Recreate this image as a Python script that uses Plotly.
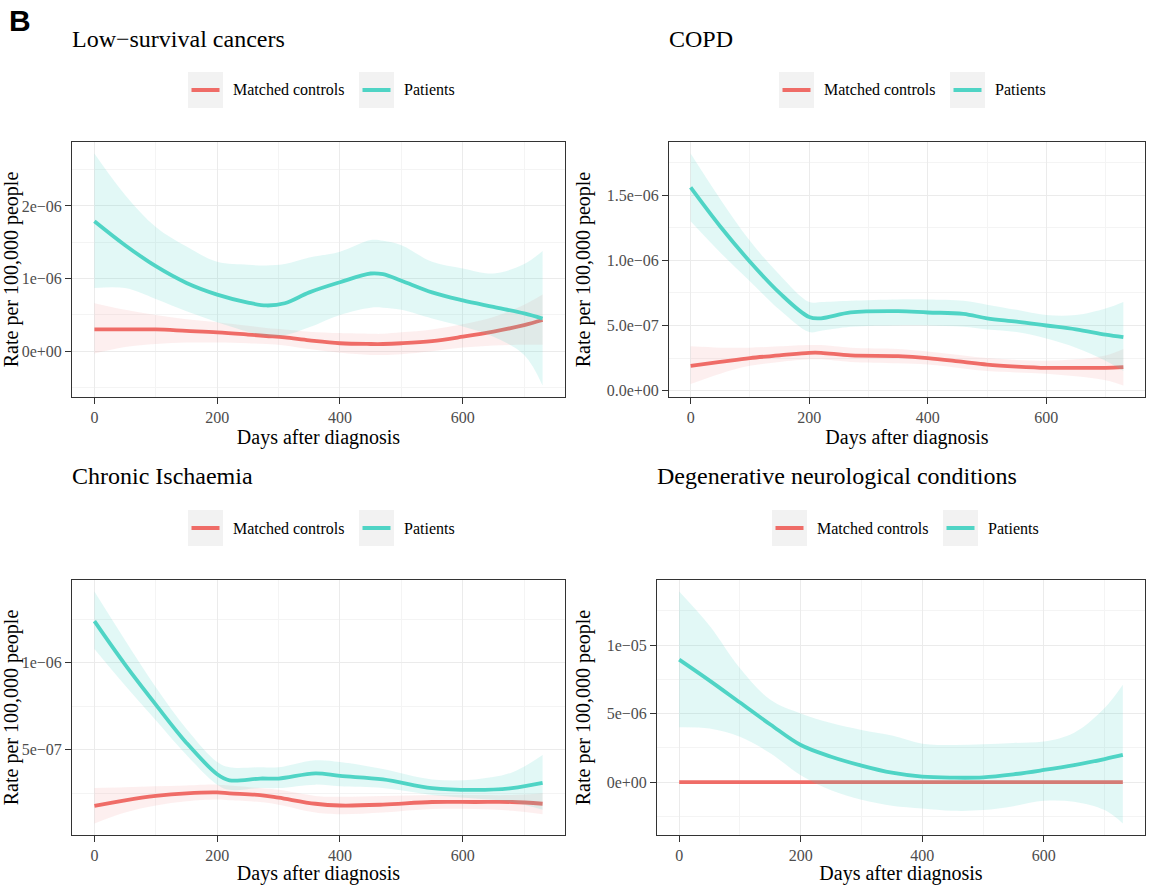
import plotly.graph_objects as go

W, H = 1151, 885
SCALE = 1e-6  # values below are in units of 1e-6

# ---------------- Data (rate, in 1e-6 units) ----------------
# Panel 1: Low-survival cancers
days1 = [0, 50, 100, 150, 200, 250, 280, 310, 350, 400, 450, 470, 500, 550, 600, 650, 700, 730]
pat1 = [1.79, 1.46, 1.17, 0.94, 0.78, 0.67, 0.63, 0.66, 0.81, 0.95, 1.07, 1.06, 0.97, 0.81, 0.70, 0.61, 0.52, 0.45]
pat1_hi = [2.72, 2.15, 1.71, 1.44, 1.23, 1.19, 1.18, 1.20, 1.29, 1.37, 1.53, 1.52, 1.46, 1.23, 1.14, 1.07, 1.20, 1.38]
pat1_lo = [0.87, 0.87, 0.72, 0.55, 0.40, 0.27, 0.21, 0.22, 0.33, 0.50, 0.60, 0.60, 0.57, 0.45, 0.34, 0.20, -0.05, -0.47]
ctl1 = [0.30, 0.30, 0.30, 0.28, 0.26, 0.23, 0.21, 0.19, 0.15, 0.11, 0.10, 0.10, 0.11, 0.14, 0.20, 0.27, 0.36, 0.43]
ctl1_hi = [0.66, 0.57, 0.50, 0.44, 0.40, 0.35, 0.32, 0.30, 0.27, 0.25, 0.24, 0.24, 0.26, 0.30, 0.37, 0.47, 0.64, 0.78]
ctl1_lo = [-0.03, 0.06, 0.10, 0.12, 0.12, 0.11, 0.10, 0.08, 0.03, -0.02, -0.05, -0.05, -0.04, 0.00, 0.05, 0.08, 0.09, 0.09]

# Panel 2: COPD
days2 = [0, 50, 100, 150, 200, 220, 270, 350, 400, 460, 500, 550, 600, 650, 700, 730]
pat2 = [1.56, 1.26, 0.99, 0.75, 0.565, 0.555, 0.60, 0.61, 0.60, 0.59, 0.555, 0.53, 0.50, 0.47, 0.43, 0.41]
pat2_hi = [1.82, 1.47, 1.15, 0.89, 0.68, 0.68, 0.69, 0.70, 0.70, 0.69, 0.66, 0.62, 0.58, 0.58, 0.63, 0.68]
pat2_lo = [1.30, 1.06, 0.84, 0.62, 0.45, 0.46, 0.49, 0.50, 0.50, 0.49, 0.47, 0.45, 0.40, 0.33, 0.23, 0.15]
ctl2 = [0.19, 0.22, 0.25, 0.27, 0.29, 0.29, 0.27, 0.265, 0.25, 0.22, 0.20, 0.185, 0.175, 0.175, 0.175, 0.18]
ctl2_hi = [0.34, 0.33, 0.33, 0.34, 0.35, 0.35, 0.33, 0.32, 0.30, 0.27, 0.25, 0.235, 0.23, 0.24, 0.27, 0.32]
ctl2_lo = [0.05, 0.13, 0.19, 0.22, 0.24, 0.24, 0.22, 0.21, 0.20, 0.17, 0.15, 0.14, 0.13, 0.11, 0.08, 0.04]

# Panel 3: Chronic Ischaemia
days3 = [0, 50, 100, 150, 200, 220, 270, 300, 360, 400, 470, 550, 620, 680, 730]
pat3 = [1.24, 0.99, 0.76, 0.54, 0.36, 0.325, 0.335, 0.335, 0.365, 0.35, 0.33, 0.28, 0.27, 0.28, 0.31]
pat3_hi = [1.41, 1.13, 0.86, 0.62, 0.43, 0.40, 0.40, 0.40, 0.44, 0.43, 0.39, 0.33, 0.33, 0.37, 0.47]
pat3_lo = [1.08, 0.87, 0.67, 0.47, 0.30, 0.27, 0.28, 0.28, 0.30, 0.29, 0.28, 0.24, 0.22, 0.20, 0.155]
ctl3 = [0.178, 0.21, 0.235, 0.25, 0.255, 0.25, 0.24, 0.225, 0.19, 0.18, 0.185, 0.20, 0.20, 0.20, 0.19]
ctl3_hi = [0.28, 0.285, 0.29, 0.295, 0.30, 0.295, 0.28, 0.27, 0.235, 0.23, 0.235, 0.24, 0.24, 0.24, 0.25]
ctl3_lo = [0.077, 0.14, 0.18, 0.205, 0.215, 0.21, 0.20, 0.185, 0.14, 0.13, 0.14, 0.16, 0.16, 0.15, 0.13]

# Panel 4: Degenerative neurological conditions
days4 = [0, 50, 100, 150, 200, 250, 300, 350, 400, 450, 500, 550, 600, 650, 700, 730]
pat4 = [8.93, 7.40, 5.80, 4.20, 2.70, 1.85, 1.20, 0.68, 0.39, 0.32, 0.34, 0.56, 0.88, 1.24, 1.68, 1.98]
pat4_hi = [13.9, 11.4, 8.3, 6.0, 5.0, 4.3, 3.8, 3.4, 2.8, 2.7, 2.75, 2.85, 2.95, 3.6, 5.4, 7.1]
pat4_lo = [4.0, 3.9, 3.3, 2.1, 0.5, -0.6, -1.3, -1.73, -1.93, -2.1, -2.05, -1.76, -1.37, -1.44, -2.05, -3.02]
ctl4 = [0, 0, 0, 0, 0, 0, 0, 0, 0, 0, 0, 0, 0, 0, 0, 0]
ctl4_hi = [0, 0, 0, 0, 0, 0, 0, 0, 0, 0, 0, 0, 0, 0, 0, 0]
ctl4_lo = [0, 0, 0, 0, 0, 0, 0, 0, 0, 0, 0, 0, 0, 0, 0, 0]

titles = ["Low\u2212survival cancers", "COPD", "Chronic Ischaemia", "Degenerative neurological conditions"]
series_names = ["Matched controls", "Patients"]
x_ticks = [0, 200, 400, 600]
x_minor = [100, 300, 500, 700]
y_ticks = [[0, 1, 2], [0, 0.5, 1.0, 1.5], [0.5, 1.0], [0, 5, 10]]
y_ticktext = [["0e+00", "1e\u221206", "2e\u221206"],
              ["0.0e+00", "5.0e\u221207", "1.0e\u221206", "1.5e\u221206"],
              ["5e\u221207", "1e\u221206"],
              ["0e+00", "5e\u221206", "1e\u221205"]]
y_minor = [[-0.5, 0.5, 1.5, 2.5], [0.25, 0.75, 1.25, 1.75], [0.25, 0.75, 1.25], [-2.5, 2.5, 7.5, 12.5]]

# ---------------- Styling ----------------
RED = "#EF6C67"
TEAL = "#4FD4C5"
RED_FILL = "rgba(240,110,105,0.11)"
TEAL_FILL = "rgba(72,209,196,0.16)"
SERIF = "Liberation Serif, Times New Roman, serif"
GRID = "#EBEBEB"
MINOR = "#F4F4F4"
DARK = "#333333"

# panel boxes in pixels: (left, right, top, bottom)
boxes = [(72, 565, 142, 397), (669, 1145, 142, 397), (72, 565, 580, 835), (657, 1145, 580, 835)]
legend_x = [188, 779, 188, 772]  # left of first legend key


def px(x):
    return x / W


def py(y):
    return 1 - y / H


panels = [
    (days1, ctl1, ctl1_lo, ctl1_hi, pat1, pat1_lo, pat1_hi),
    (days2, ctl2, ctl2_lo, ctl2_hi, pat2, pat2_lo, pat2_hi),
    (days3, ctl3, ctl3_lo, ctl3_hi, pat3, pat3_lo, pat3_hi),
    (days4, ctl4, ctl4_lo, ctl4_hi, pat4, pat4_lo, pat4_hi),
]

fig = go.Figure()
shapes = []
annotations = []

for i, (d, c, clo, chi, p, plo, phi) in enumerate(panels):
    k = "" if i == 0 else str(i + 1)
    xr, yr = "x" + k, "y" + k
    sc = lambda arr: [v * SCALE for v in arr]
    for (mid, lo, hi, col, fillc) in [(c, clo, chi, RED, RED_FILL), (p, plo, phi, TEAL, TEAL_FILL)]:
        fig.add_trace(go.Scatter(x=d, y=sc(lo), mode="lines", line=dict(width=0, shape="spline"),
                                 hoverinfo="skip", showlegend=False, xaxis=xr, yaxis=yr))
        fig.add_trace(go.Scatter(x=d, y=sc(hi), mode="lines", line=dict(width=0, shape="spline"),
                                 fill="tonexty", fillcolor=fillc, hoverinfo="skip",
                                 showlegend=False, xaxis=xr, yaxis=yr))
        fig.add_trace(go.Scatter(x=d, y=sc(mid), mode="lines", line=dict(color=col, width=3.8, shape="spline"),
                                 showlegend=False, xaxis=xr, yaxis=yr))

    # axis ranges with ggplot-like 5% expansion
    xmin, xmax = min(d), max(d)
    xpad = 0.05 * (xmax - xmin)
    allv = clo + chi + plo + phi + c + p
    ymin, ymax = min(allv) * SCALE, max(allv) * SCALE
    ypad = 0.05 * (ymax - ymin)

    L, R, T, B = boxes[i]
    common = dict(showline=True, mirror=True, linecolor=DARK, linewidth=1,
                  ticks="outside", ticklen=6, tickwidth=1, tickcolor=DARK,
                  showgrid=True, gridcolor=GRID, gridwidth=1.1, zeroline=False,
                  tickfont=dict(family=SERIF, size=16, color="#4D4D4D"), automargin=False)
    fig.layout["xaxis" + k] = dict(
        domain=[px(L), px(R)], anchor=yr, range=[xmin - xpad, xmax + xpad],
        tickmode="array", tickvals=x_ticks,
        minor=dict(tickmode="array", tickvals=x_minor, showgrid=True, gridcolor=MINOR, gridwidth=0.8, ticks=""),
        title=dict(text="Days after diagnosis", font=dict(family=SERIF, size=20, color="black"), standoff=1),
        **common)
    fig.layout["yaxis" + k] = dict(
        domain=[py(B), py(T)], anchor=xr, range=[ymin - ypad, ymax + ypad],
        tickmode="array", tickvals=[v * SCALE for v in y_ticks[i]], ticktext=y_ticktext[i],
        minor=dict(tickmode="array", tickvals=[v * SCALE for v in y_minor[i]], showgrid=True,
                   gridcolor=MINOR, gridwidth=0.8, ticks=""),
        title=dict(text="Rate per 100,000 people", font=dict(family=SERIF, size=20, color="black"), standoff=10),
        **common)

    # panel title
    ty = 39 if i < 2 else 476
    annotations.append(dict(text=titles[i], x=px(L - 2), y=py(ty), xref="paper", yref="paper",
                            xanchor="left", yanchor="middle", showarrow=False,
                            font=dict(family=SERIF, size=24, color="black")))

    # legend (keys + labels)
    ly = 90 if i < 2 else 528
    lx = legend_x[i]
    for j, (name, col) in enumerate(zip(series_names, [RED, TEAL])):
        bx = lx + j * 171
        shapes.append(dict(type="rect", xref="paper", yref="paper", x0=px(bx), x1=px(bx + 35),
                           y0=py(ly + 18), y1=py(ly - 18), fillcolor="#F2F2F2", line=dict(width=0),
                           layer="below"))
        shapes.append(dict(type="line", xref="paper", yref="paper", x0=px(bx + 3.5), x1=px(bx + 31.5),
                           y0=py(ly), y1=py(ly), line=dict(color=col, width=4)))
        annotations.append(dict(text=name, x=px(bx + 43), y=py(ly), xref="paper", yref="paper",
                                xanchor="left", yanchor="middle", showarrow=False,
                                font=dict(family=SERIF, size=16, color="black")))

annotations.append(dict(text="<b>B</b>", x=px(7), y=py(20), xref="paper", yref="paper",
                        xanchor="left", yanchor="middle", showarrow=False,
                        font=dict(family="Liberation Sans, Arial, sans-serif", size=30, color="black")))

fig.update_layout(width=W, height=H, margin=dict(l=0, r=0, t=0, b=0),
                  paper_bgcolor="white", plot_bgcolor="white",
                  shapes=shapes, annotations=annotations, showlegend=False,
                  font=dict(family=SERIF))

fig.write_html("out.html", config={"displayModeBar": False},
               post_script="document.body.style.margin='0px';")
